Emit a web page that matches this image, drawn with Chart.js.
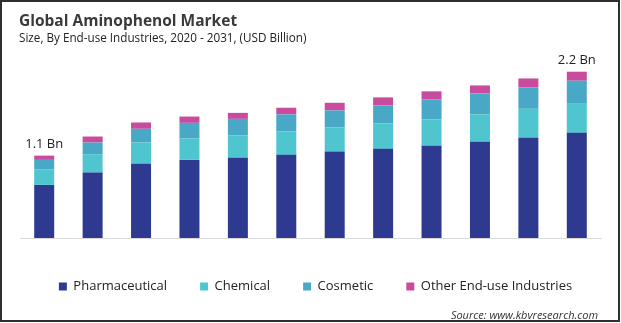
<!DOCTYPE html>
<html>
<head>
<meta charset="utf-8">
<title>Global Aminophenol Market</title>
<script src="https://cdn.jsdelivr.net/npm/chart.js@4.4.1/dist/chart.umd.min.js"></script>
<style>
  html, body { margin: 0; padding: 0; background: #fff; }
  #wrap { position: relative; width: 621px; height: 323px; }
  #wrap canvas { position: absolute; left: 0; top: 0; }
  #frame {
    position: absolute; left: 0; top: 0; width: 620px; height: 322px;
    border: 2px solid #2f2f2f; box-sizing: border-box; pointer-events: none;
  }
</style>
</head>
<body>
<div id="wrap">
  <canvas id="marketChart" width="621" height="323"></canvas>
  <div id="frame"></div>
</div>
<script>
const years = ["2020", "2021", "2022", "2023", "2024", "2025", "2026", "2027", "2028", "2029", "2030", "2031"];

// USD Billion by end-use industry
const pharmaceutical = [0.707, 0.871, 0.987, 1.04, 1.067, 1.107, 1.151, 1.187, 1.227, 1.28, 1.333, 1.4];
const chemical = [0.204, 0.245, 0.284, 0.284, 0.297, 0.311, 0.32, 0.338, 0.351, 0.364, 0.387, 0.387];
const cosmetic = [0.129, 0.155, 0.183, 0.209, 0.222, 0.227, 0.227, 0.24, 0.267, 0.28, 0.284, 0.307];
const otherIndustries = [0.057, 0.08, 0.084, 0.084, 0.08, 0.089, 0.102, 0.107, 0.107, 0.107, 0.12, 0.12];

const labelledYears = [0, 11];

const totals = years.map((_, i) =>
  pharmaceutical[i] + chemical[i] + cosmetic[i] + otherIndustries[i]
);

const FONT = "'Open Sans', 'Noto Sans', sans-serif";

const headerText = {
  id: "headerText",
  afterLayout(chart) {
    // legend sits a little right of centre
    chart.legend.left += 5;
    chart.legend.right += 5;
  },
  afterDraw(chart) {
    const ctx = chart.ctx;
    ctx.save();
    ctx.textAlign = "left";
    ctx.textBaseline = "alphabetic";

    ctx.fillStyle = "#3a3a3a";
    ctx.font = `bold 15.5px ${FONT}`;
    ctx.fillText("Global Aminophenol Market", 19, 26);

    ctx.fillStyle = "#222";
    ctx.font = `11.7px ${FONT}`;
    ctx.fillText("Size, By End-use Industries, 2020 - 2031, (USD Billion)", 19, 42);

    ctx.textAlign = "right";
    ctx.fillStyle = "#333";
    ctx.font = `italic 11px ${FONT}`;
    ctx.fillText("Source: www.kbvresearch.com", 598, 319);

    // total labels over the first and last bar
    const topMeta = chart.getDatasetMeta(3);
    ctx.textAlign = "center";
    ctx.textBaseline = "middle";
    ctx.fillStyle = "#222";
    ctx.font = `13px ${FONT}`;
    labelledYears.forEach((i) => {
      const bar = topMeta.data[i];
      ctx.fillText(`${totals[i].toFixed(1)} Bn`, bar.x, bar.y - 11);
    });
    ctx.restore();
  },
};

new Chart(document.getElementById("marketChart"), {
  type: "bar",
  data: {
    labels: years,
    datasets: [
      { label: "Pharmaceutical", data: pharmaceutical, backgroundColor: "#2d3a8f" },
      { label: "Chemical", data: chemical, backgroundColor: "#4ec5cf" },
      { label: "Cosmetic", data: cosmetic, backgroundColor: "#49a8c5" },
      { label: "Other End-use Industries", data: otherIndustries, backgroundColor: "#c94b9d" },
    ],
  },
  options: {
    responsive: false,
    animation: false,
    layout: { padding: { top: 40, left: 20, right: 20, bottom: 20 } },
    datasets: {
      bar: { categoryPercentage: 1, barPercentage: 0.413, borderWidth: 0 },
    },
    scales: {
      x: {
        stacked: true,
        grid: { display: false, drawTicks: false },
        border: { display: true, color: "#d9d9d9", width: 1 },
        ticks: { color: "#222", font: { family: FONT, size: 13 }, padding: 12 },
        afterFit: (scale) => { scale.height = 9; },
      },
      y: {
        stacked: true,
        display: false,
        min: 0,
        max: 2.636,
      },
    },
    plugins: {
      legend: {
        position: "bottom",
        labels: {
          color: "#222",
          font: { family: FONT, size: 13 },
          boxWidth: 8,
          boxHeight: 8,
          padding: 33,
        },
      },
      tooltip: { enabled: false },
    },
  },
  plugins: [headerText],
});
</script>
</body>
</html>
